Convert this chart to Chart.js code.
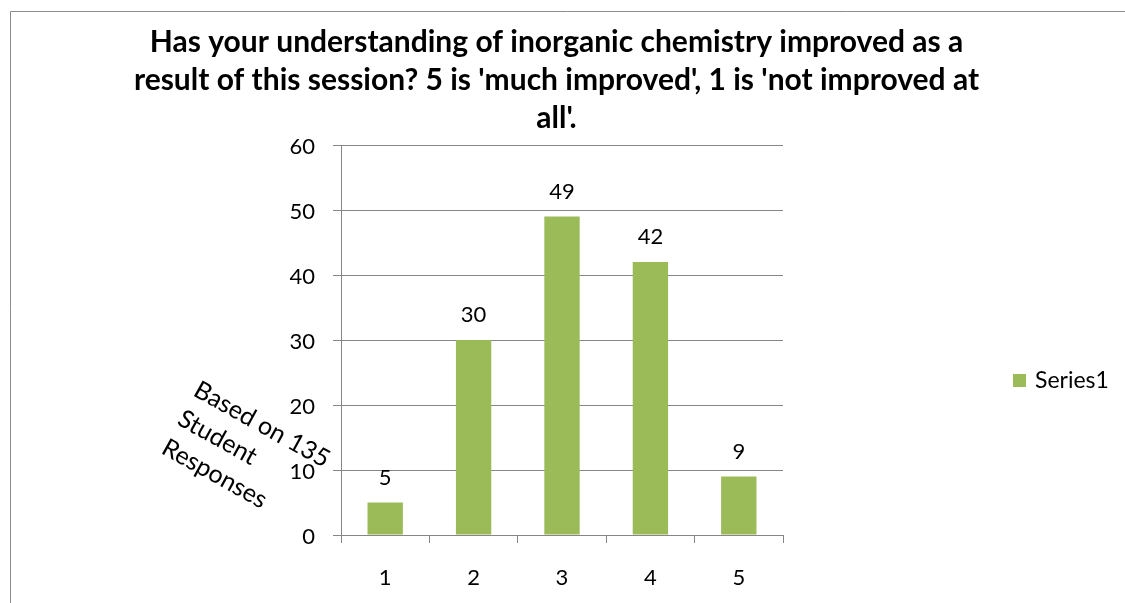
<!DOCTYPE html>
<html>
<head>
<meta charset="utf-8">
<script src="https://cdn.jsdelivr.net/npm/chart.js@4.4.1/dist/chart.umd.min.js"></script>
<style>
  html, body { margin: 0; padding: 0; background: #fff; }
  #wrap { width: 1125px; height: 603px; position: relative; }
</style>
</head>
<body>
<div id="wrap"><canvas id="c" width="1125" height="603"></canvas></div>
<script>
// ---- data ----
const categories = ['1', '2', '3', '4', '5'];
const responses = [5, 30, 49, 42, 9];
const seriesName = 'Series1';
const yMin = 0;
const yMax = 60;
const yStep = 10;
const titleLines = [
  'Has your understanding of inorganic chemistry improved as a',
  "result of this session? 5 is 'much improved', 1 is 'not improved at",
  "all'."
];
const axisTitleLines = ['Based on 135', 'Student', 'Responses'];

// ---- styles ----
const BAR = '#9BBB59';
const GRID = '#868686';
const FONT = 'Lato';

const decor = {
  id: 'decor',
  beforeDraw(chart) {
    const ctx = chart.ctx;
    ctx.save();
    ctx.strokeStyle = '#8c8c8c';
    ctx.lineWidth = 1;
    ctx.beginPath();
    ctx.moveTo(10.5, 700);
    ctx.lineTo(10.5, 11.5);
    ctx.lineTo(1125, 11.5);
    ctx.stroke();
    ctx.restore();
  },
  afterDatasetsDraw(chart) {
    const ctx = chart.ctx;
    ctx.save();
    // data labels
    const meta = chart.getDatasetMeta(0);
    ctx.fillStyle = '#000';
    ctx.font = '22px ' + FONT;
    ctx.textAlign = 'center';
    ctx.textBaseline = 'alphabetic';
    meta.data.forEach((bar, i) => {
      ctx.fillText(String(chart.data.datasets[0].data[i]), bar.x, bar.y - 18);
    });
    // rotated axis title
    ctx.save();
    ctx.translate(192, 395);
    ctx.rotate(29 * Math.PI / 180);
    ctx.font = '25px ' + FONT;
    ctx.textAlign = 'left';
    axisTitleLines.forEach((t, i) => ctx.fillText(t, 0, i * 33));
    ctx.restore();
    // legend
    const ds = chart.data.datasets[0];
    ctx.fillStyle = ds.backgroundColor;
    ctx.fillRect(1013, 374, 13, 13);
    ctx.fillStyle = '#000';
    ctx.font = '23px ' + FONT;
    ctx.textAlign = 'left';
    ctx.fillText(ds.label, 1035, 388);
    ctx.restore();
  }
};

new Chart(document.getElementById('c'), {
  type: 'bar',
  data: {
    labels: categories,
    datasets: [{
      label: seriesName,
      data: responses,
      backgroundColor: BAR,
      borderWidth: 0,
      categoryPercentage: 1.0,
      barPercentage: 0.4
    }]
  },
  options: {
    responsive: false,
    animation: false,
    events: [],
    layout: { padding: { left: 0, right: 12, top: 0, bottom: 0 } },
    plugins: {
      legend: { display: false },
      tooltip: { enabled: false },
      title: {
        display: true,
        text: titleLines,
        color: '#000',
        font: { family: FONT, size: 30, weight: 'bold', lineHeight: 38 / 30 },
        padding: { top: 23, bottom: 8 }
      }
    },
    scales: {
      x: {
        grid: { display: true, drawOnChartArea: false, drawTicks: true, tickLength: 8, color: GRID, offset: true },
        border: { display: true, color: GRID, width: 1 },
        ticks: { color: '#000', font: { family: FONT, size: 22 }, padding: 22 },
        afterFit(s) { s.height = 68; }
      },
      y: {
        min: yMin, max: yMax,
        ticks: { stepSize: yStep, color: '#000', font: { family: FONT, size: 22 }, padding: 18, labelOffset: 2 },
        grid: { color: GRID, drawTicks: true, tickLength: 8 },
        border: { display: true, color: GRID, width: 1 },
        afterFit(s) { s.width = 341; }
      },
      pad: {
        type: 'linear',
        position: 'right',
        display: true,
        grid: { display: false },
        border: { display: false },
        ticks: { display: false },
        afterFit(s) { s.width = 330; }
      }
    }
  },
  plugins: [decor]
});
</script>
</body>
</html>
